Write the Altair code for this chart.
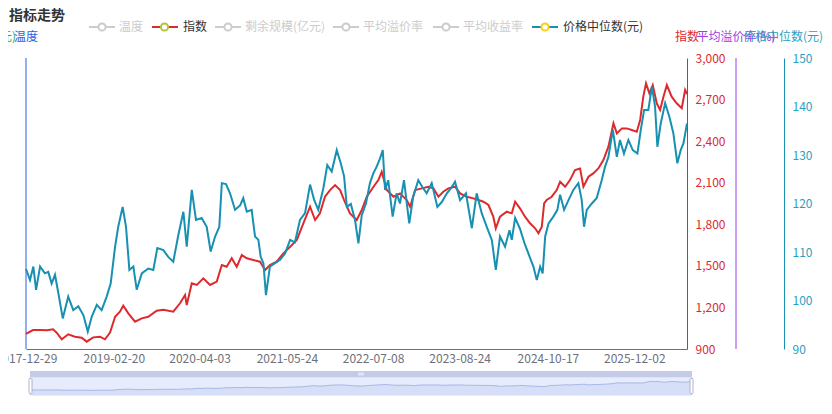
import altair as alt
import pandas as pd

START = pd.Timestamp("2017-12-29")
END_DAY = 3146  # last plotted day offset from START

# ---- 指数 (index) series: day offset from 2017-12-29, value ----
idx_days = [0, 33, 67, 99, 129, 146, 170, 201, 233, 265, 289, 320, 352, 376, 400, 424, 447, 463, 487, 519,
            551, 582, 622, 654, 701, 733, 757, 765, 789, 813, 844, 876, 908, 932, 955, 979, 1003, 1027, 1051, 1082,
            1114, 1138, 1161, 1193, 1225, 1257, 1289, 1320, 1352, 1376, 1399, 1423, 1447, 1471, 1495, 1514, 1542, 1574, 1598, 1622,
            1654, 1677, 1693, 1717, 1749, 1780, 1812, 1828, 1852, 1884, 1915, 1939, 1963, 1986, 2010, 2042, 2066, 2098, 2129, 2153,
            2177, 2201, 2224, 2236, 2256, 2288, 2312, 2328, 2351, 2375, 2399, 2423, 2439, 2455, 2466, 2478, 2502, 2526, 2542, 2566,
            2589, 2613, 2637, 2653, 2677, 2700, 2724, 2748, 2772, 2796, 2812, 2836, 2859, 2883, 2907, 2923, 2938, 2951, 2967, 2983,
            3002, 3018, 3034, 3050, 3073, 3097, 3121, 3137, 3146]
idx_vals = [1010, 1037, 1037, 1035, 1042, 1018, 970, 1006, 989, 982, 953, 984, 989, 970, 1018, 1133, 1169, 1212, 1157, 1097,
            1121, 1133, 1176, 1183, 1169, 1230, 1290, 1217, 1374, 1362, 1410, 1362, 1386, 1506, 1494, 1555, 1494, 1578, 1555, 1542,
            1530, 1470, 1506, 1530, 1590, 1638, 1687, 1807, 1927, 1831, 1879, 1999, 2047, 2083, 2047, 1975, 1879, 1831, 1903, 1999,
            2071, 2119, 2179, 2047, 1999, 2023, 1975, 1927, 2047, 2059, 2071, 2059, 1999, 2035, 2059, 2071, 2023, 1999, 1987, 1975,
            1963, 1939, 1855, 1771, 1855, 1891, 1879, 1963, 1915, 1855, 1807, 1771, 1735, 1783, 1951, 1975, 1999, 2047, 2107, 2071,
            2119, 2192, 2203, 2071, 2143, 2167, 2203, 2264, 2360, 2529, 2456, 2492, 2492, 2480, 2468, 2553, 2721, 2817, 2745, 2805,
            2673, 2625, 2721, 2805, 2721, 2673, 2637, 2769, 2740]

# ---- 价格中位数(元) series ----
med_days = [0, 19, 35, 48, 67, 90, 106, 122, 138, 154, 175, 201, 225, 249, 273, 294, 313, 337, 360, 384,
            403, 424, 439, 460, 476, 492, 511, 527, 551, 582, 606, 625, 654, 677, 701, 725, 749, 765, 789, 809,
            836, 860, 879, 900, 920, 932, 952, 971, 995, 1019, 1034, 1051, 1074, 1090, 1106, 1117, 1130, 1142, 1161, 1185,
            1209, 1233, 1257, 1280, 1304, 1328, 1352, 1371, 1391, 1415, 1434, 1455, 1479, 1498, 1514, 1527, 1546, 1566, 1582, 1598,
            1618, 1637, 1653, 1669, 1685, 1698, 1709, 1724, 1745, 1764, 1780, 1799, 1824, 1843, 1867, 1891, 1907, 1931, 1958, 1979,
            2003, 2022, 2042, 2066, 2094, 2122, 2145, 2169, 2193, 2217, 2236, 2256, 2280, 2301, 2312, 2328, 2351, 2375, 2391, 2415,
            2431, 2447, 2459, 2471, 2487, 2510, 2529, 2542, 2561, 2582, 2605, 2629, 2645, 2656, 2669, 2693, 2716, 2740, 2756, 2772,
            2793, 2812, 2827, 2846, 2867, 2888, 2910, 2926, 2942, 2962, 2979, 2994, 3005, 3021, 3042, 3062, 3081, 3100, 3116, 3129,
            3146]
med_vals = [106.5, 104.2, 107.0, 102.2, 107.0, 105.6, 105.9, 103.5, 105.3, 101.5, 96.3, 100.8, 98.0, 98.8, 97.0, 93.6, 96.7, 99.1, 98.0, 100.8,
            103.5, 111.1, 115.2, 119.3, 115.2, 106.3, 107.0, 102.2, 105.6, 106.6, 106.3, 110.8, 110.4, 109.0, 108.0, 113.5, 118.3, 111.1, 122.8, 116.6,
            117.0, 115.2, 110.1, 113.2, 115.2, 124.2, 124.0, 122.1, 118.7, 119.6, 121.1, 118.3, 118.7, 113.2, 112.5, 109.0, 107.7, 101.1, 107.0, 107.7,
            108.4, 109.7, 112.5, 112.0, 116.6, 118.0, 123.9, 120.8, 118.7, 123.1, 127.9, 126.6, 131.0, 128.3, 125.6, 119.3, 119.9, 116.6, 111.8, 117.6,
            120.0, 124.2, 126.2, 127.6, 129.3, 131.0, 122.8, 124.8, 117.3, 122.1, 120.0, 124.8, 115.9, 121.4, 124.8, 123.1, 122.1, 124.2, 119.3, 120.3,
            122.1, 123.1, 124.5, 120.7, 122.1, 114.9, 122.1, 118.0, 115.2, 112.5, 106.3, 113.2, 111.1, 114.5, 112.5, 117.0, 114.8, 111.5, 109.7, 107.0,
            104.2, 107.0, 105.6, 113.2, 115.9, 117.3, 118.7, 121.8, 118.7, 120.7, 122.8, 124.2, 120.7, 115.2, 118.7, 120.0, 121.1, 124.8, 127.6, 129.6,
            135.2, 129.6, 133.1, 130.3, 133.1, 131.0, 130.3, 135.2, 139.3, 139.3, 144.1, 140.0, 131.7, 136.5, 140.7, 137.9, 134.5, 128.3, 131.0, 132.4,
            136.5]

x_tick_labels = ["2017-12-29", "2019-02-20", "2020-04-03", "2021-05-24",
                 "2022-07-08", "2023-08-24", "2024-10-17", "2025-12-02"]
idx_ticks = [900, 1200, 1500, 1800, 2100, 2400, 2700, 3000]
med_ticks = [90, 100, 110, 120, 130, 140, 150]

legend_names = ["温度", "指数", "剩余规模(亿元)", "平均溢价率", "平均收益率", "价格中位数(元)"]
legend_active = [False, True, False, False, False, True]

title_text = "指标走势"
left_names = ["温度", "剩余规模(亿元)"]
right_names = ["指数", "平均溢价率(%)", "价格中位数(元)"]

# ---- styles / layout ----
RED = "#dc2a2e"
TEAL = "#1790b2"
TEAL_LBL = "#2a9fc2"
PURPLE = "#9b3fe0"
BLUE = "#2262ea"
GREEN = "#35a853"
GREY = "#6E7079"
INACTIVE = "#cccccc"
FONT = "Noto Sans CJK SC"
W, H = 661, 291

legend_line_x0 = [63, 126, 189, 307, 407, 506]
legend_circle_x = [76, 138.5, 202, 320, 420, 519]
legend_text_x = [93, 157, 219, 337, 437, 537]
legend_line_colors = [INACTIVE, RED, INACTIVE, INACTIVE, INACTIVE, TEAL]
legend_circle_colors = [INACTIVE, "#b5c334", INACTIVE, INACTIVE, INACTIVE, "#fcce10"]

df_idx = pd.DataFrame({"d": idx_days, "v": idx_vals})
df_med = pd.DataFrame({"d": med_days, "v": med_vals})

tick_pos = [int((pd.Timestamp(s) - START).days) for s in x_tick_labels]
label_expr = " : ".join(f"datum.value == {p} ? '{s}'" for p, s in zip(tick_pos, x_tick_labels)) + " : ''"

xscale = alt.Scale(domain=[0, END_DAY], nice=False, zero=False)

red_line = alt.Chart(df_idx).mark_line(color=RED, strokeWidth=2).encode(
    x=alt.X("d:Q", scale=xscale, title=None,
            axis=alt.Axis(values=tick_pos, labelExpr=label_expr, grid=False, ticks=False,
                          domainColor=GREY, labelColor=GREY, labelFontSize=12, labelPadding=4,
                          labelFlush=False, labelOverlap=False, labelFont=FONT)),
    y=alt.Y("v:Q", scale=alt.Scale(domain=[900, 3000], nice=False, zero=False), title=None,
            axis=alt.Axis(orient="right", values=idx_ticks, format=",d", grid=False, ticks=False,
                          domainColor=RED, labelColor=RED, labelPadding=8, labelFontSize=12,
                          labelOverlap=False, labelFont=FONT)),
)

teal_line = alt.Chart(df_med).mark_line(color=TEAL, strokeWidth=2).encode(
    x=alt.X("d:Q", scale=xscale, axis=None),
    y=alt.Y("v:Q", scale=alt.Scale(domain=[90, 150], nice=False, zero=False), title=None,
            axis=alt.Axis(orient="right", offset=97, values=med_ticks, format="d", grid=False, ticks=False,
                          domainColor=TEAL, labelColor=TEAL_LBL, labelPadding=8, labelFontSize=12,
                          labelOverlap=False, labelFont=FONT)),
)

one = pd.DataFrame({"a": [0]})

# side axis lines for hidden series
blue_axis = alt.Chart(one).mark_rule(color=BLUE, strokeWidth=1).encode(
    x=alt.value(0), y=alt.value(0), y2=alt.value(H))
purple_axis = alt.Chart(one).mark_rule(color=PURPLE, strokeWidth=1).encode(
    x=alt.value(710), y=alt.value(0), y2=alt.value(H))

# axis names
def txt(t, x, y, color, align="center", size=12, weight="normal"):
    return alt.Chart(one).mark_text(text=t, color=color, align=align, baseline="middle",
                                    fontSize=size, fontWeight=weight, font=FONT).encode(
        x=alt.value(x), y=alt.value(y))

names = [
    txt(left_names[1], -10, -21, GREEN, align="right"),
    txt(left_names[0], 0, -21, BLUE),
    txt(right_names[0], 661, -21, RED),
    txt(right_names[1], 710, -21, PURPLE),
    txt(right_names[2], 757, -21, TEAL_LBL),
    txt(title_text, -17, -42, "#333333", align="left", size=14, weight="bold"),
]

# legend
df_leg = pd.DataFrame({
    "name": legend_names,
    "x0": legend_line_x0,
    "x1": [v + 26 for v in legend_line_x0],
    "cx": legend_circle_x,
    "tx": legend_text_x,
    "lc": legend_line_colors,
    "cc": legend_circle_colors,
    "tc": ["#333333" if a else INACTIVE for a in legend_active],
})
leg_lines = alt.Chart(df_leg).mark_rule(strokeWidth=2).encode(
    x=alt.X("x0:Q", scale=None), x2="x1:Q", y=alt.value(-31),
    color=alt.Color("lc:N", scale=None))
leg_circles = alt.Chart(df_leg).mark_point(shape="circle", size=52, fill="white", fillOpacity=1,
                                            strokeWidth=2, opacity=1).encode(
    x=alt.X("cx:Q", scale=None), y=alt.value(-31), stroke=alt.Stroke("cc:N", scale=None))
leg_text = alt.Chart(df_leg).mark_text(align="left", baseline="middle", fontSize=12, font=FONT).encode(
    x=alt.X("tx:Q", scale=None), y=alt.value(-31), text="name:N",
    color=alt.Color("tc:N", scale=None))

# data zoom slider
SX0, SX1, SY0, SY1, SYT = 4, 666, 319, 337, 313
slider_body = alt.Chart(one).mark_rect(fill="#e6ecfb", stroke="#d3dbef", strokeWidth=1).encode(
    x=alt.value(SX0), x2=alt.value(SX1), y=alt.value(SY0), y2=alt.value(SY1))
slider_top = alt.Chart(one).mark_rect(fill="#c3cbe7").encode(
    x=alt.value(SX0), x2=alt.value(SX1), y=alt.value(SYT), y2=alt.value(SY0))
mini = alt.Chart(df_idx).mark_area(color="#d2dcf6", opacity=0.8,
                                   line={"color": "#a9b8e6", "strokeWidth": 1}).encode(
    x=alt.X("d:Q", scale=alt.Scale(domain=[0, END_DAY], range=[SX0, SX1], nice=False, zero=False), axis=None),
    y=alt.Y("v:Q", scale=alt.Scale(domain=[0, 3500], range=[SY1, SY0 + 1], nice=False), axis=None),
)
grips = [alt.Chart(one).mark_rule(color="#ffffff", strokeWidth=1).encode(
    x=alt.value(gx), y=alt.value(SYT + 1.5), y2=alt.value(SY0 - 1.5)) for gx in (333, 335, 337)]
handles = [alt.Chart(one).mark_rect(fill="#ffffff", stroke="#aab4cc", strokeWidth=1, cornerRadius=1).encode(
    x=alt.value(hx), x2=alt.value(hx + 3), y=alt.value(SY0 + 1.5), y2=alt.value(SY1 - 1.5)) for hx in (SX0 - 1, SX1 - 2)]

chart = alt.layer(
    slider_body, slider_top, mini, *grips, *handles,
    blue_axis, purple_axis,
    red_line, teal_line,
    leg_lines, leg_circles, leg_text,
    *names,
).resolve_scale(x="independent", y="independent").properties(
    width=W, height=H,
    autosize=alt.AutoSizeParams(type="none"),
    padding={"left": 18, "top": 50, "right": 137, "bottom": 55},
    background="white",
).configure_view(stroke=None).configure_axis(grid=False)

chart.save("out.html", embed_options={"renderer": "svg", "actions": False})
